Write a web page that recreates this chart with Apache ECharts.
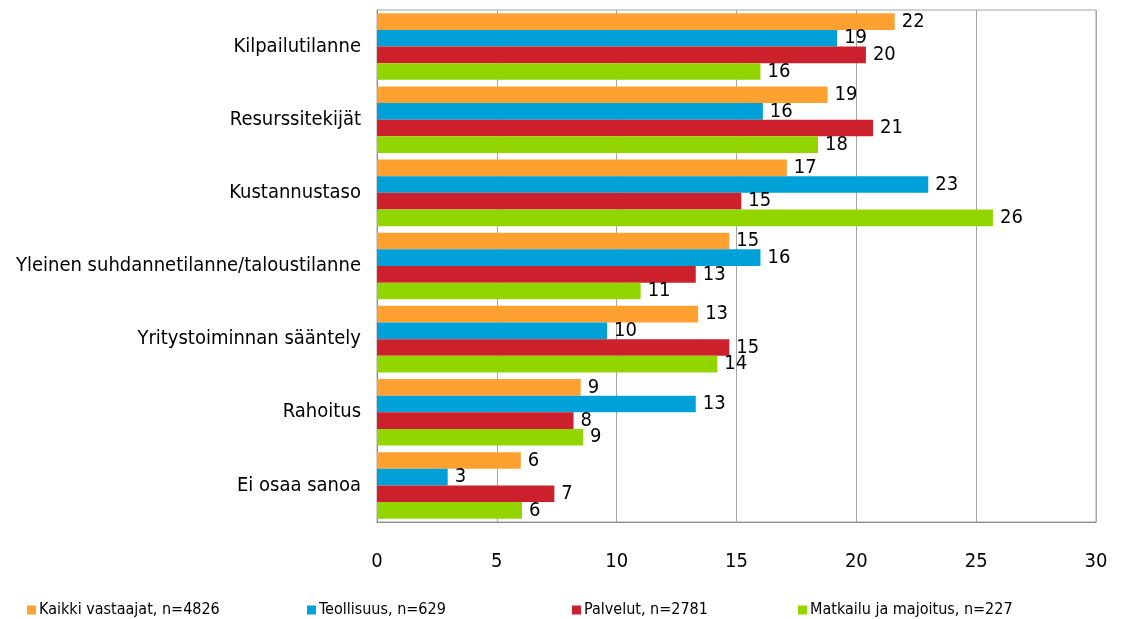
<!DOCTYPE html>
<html>
<head>
<meta charset="utf-8">
<script src="https://cdn.jsdelivr.net/npm/echarts@6/dist/echarts.min.js"></script>
<style>
  html, body { margin: 0; padding: 0; background: #fff; }
</style>
</head>
<body>
<!-- kaavion säiliö -->
<div id="main" style="width: 1124px; height: 619px;"></div>
<script>
var categories = ['Kilpailutilanne', 'Resurssitekijät', 'Kustannustaso',
  'Yleinen suhdannetilanne/taloustilanne', 'Yritystoiminnan sääntely', 'Rahoitus', 'Ei osaa sanoa']
var seriesNames = ['Kaikki vastaajat, n=4826', 'Teollisuus, n=629', 'Palvelut, n=2781', 'Matkailu ja majoitus, n=227']
var kaikki = [21.6, 18.8, 17.1, 14.7, 13.4, 8.5, 6.0]
var teollisuus = [19.2, 16.1, 23.0, 16.0, 9.6, 13.3, 2.95]
var palvelut = [20.4, 20.7, 15.2, 13.3, 14.7, 8.2, 7.4]
var matkailu = [16.0, 18.4, 25.7, 11.0, 14.2, 8.6, 6.05]
var xTicks = [0, 5, 10, 15, 20, 25, 30]

var colors = ['#FFA131', '#00A0D9', '#CD202D', '#93D500']
var font = '"DejaVu Sans Condensed", sans-serif'
var values = [kaikki, teollisuus, palvelut, matkailu]

var series = seriesNames.map(function (name, i) {
  return {
    name: name,
    type: 'bar',
    data: values[i],
    barGap: '0%',
    barCategoryGap: '9%',
    itemStyle: { color: colors[i] },
    label: {
      show: true,
      position: 'right',
      distance: 7,
      color: '#000',
      fontFamily: font,
      fontSize: 20,
      formatter: function (p) { return Math.round(p.value) }
    }
  }
})

var legendX = [22, 302, 567, 793]
var legends = seriesNames.map(function (name, i) {
  return {
    data: [name],
    left: legendX[i],
    top: 597,
    itemWidth: 9,
    itemHeight: 9,
    itemGap: 2,
    icon: 'rect',
    textStyle: { fontFamily: font, fontSize: 16, color: '#000', padding: [0, 0, 0, -2] }
  }
})

var option = {
  animation: false,
  grid: {
    left: 377, right: 28, top: 10, bottom: 97,
    outerBoundsMode: 'none',
    show: true, borderColor: '#a6a6a6', borderWidth: 1
  },
  legend: legends,
  xAxis: {
    type: 'value',
    min: xTicks[0],
    max: xTicks[xTicks.length - 1],
    interval: 5,
    axisLine: { show: true, lineStyle: { color: '#8c8c8c' } },
    axisTick: { show: false },
    splitLine: { lineStyle: { color: '#a6a6a6' } },
    axisLabel: { color: '#000', fontFamily: font, fontSize: 20, margin: 30 }
  },
  yAxis: {
    type: 'category',
    inverse: true,
    data: categories,
    axisLine: { show: true, lineStyle: { color: '#8c8c8c' } },
    axisTick: { show: false },
    axisLabel: { color: '#000', fontFamily: font, fontSize: 20, margin: 16 }
  },
  series: series
}

var chart = echarts.init(document.getElementById('main'))
chart.setOption(option)
</script>
</body>
</html>
